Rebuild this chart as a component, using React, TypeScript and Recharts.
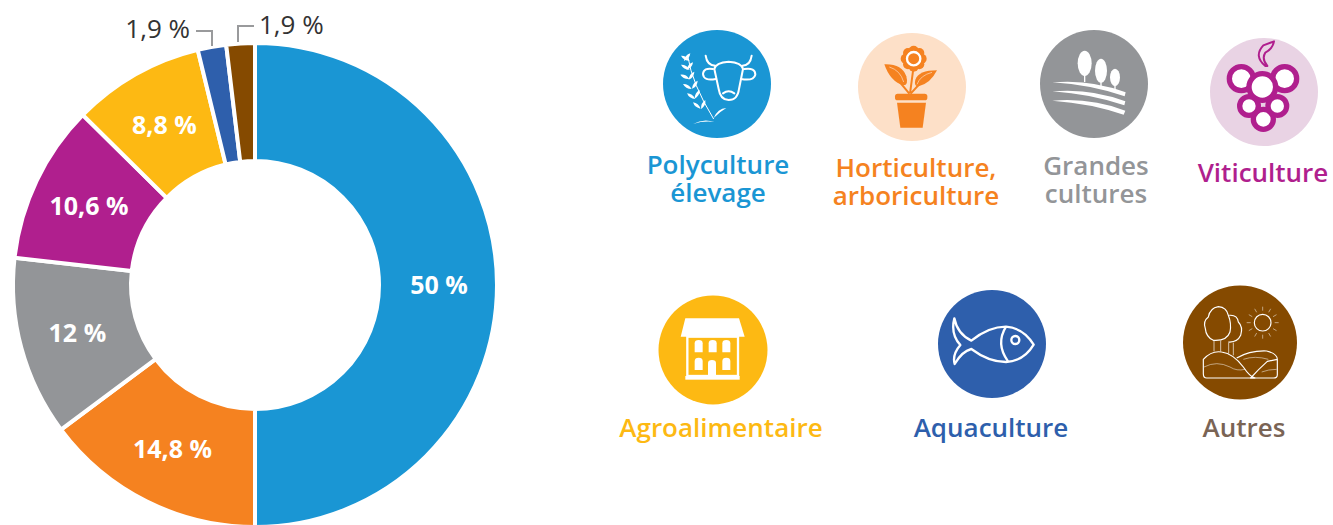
import { PieChart, Pie, Cell } from 'recharts';

const FONT = '"Open Sans", sans-serif';

const categories = ['Polyculture élevage', 'Horticulture, arboriculture', 'Grandes cultures', 'Viticulture', 'Agroalimentaire', 'Aquaculture', 'Autres'];
const shares = [50, 14.8, 12, 10.6, 8.8, 1.9, 1.9];
const sliceColors = ['#1a96d4', '#f58220', '#939598', '#b01f8e', '#fdb913', '#2e5fac', '#854a00'];

const pieData = categories.map((name, i) => ({ name, value: shares[i] }));

// small slices get their label outside, with a bent leader line
const outsideLabels: Record<number, { x: number; y: number; anchor: 'start' | 'end'; line: string }> = {
  5: { x: 190, y: 38, anchor: 'end', line: 'M196 31 H212 V46' },
  6: { x: 259, y: 34, anchor: 'start', line: 'M238 42 V26 H254' },
};

const fmt = (v: number) => `${String(v).replace('.', ',')} %`;

function SliceLabel(props: any) {
  const { cx, cy, midAngle, innerRadius, outerRadius, value, index } = props;
  const out = outsideLabels[index];
  if (out) {
    return (
      <g>
        <path d={out.line} fill="none" stroke="#999a9c" strokeWidth={2} />
        <text x={out.x} y={out.y} textAnchor={out.anchor} fontFamily={FONT} fontSize={26} fill="#333333">
          {fmt(value)}
        </text>
      </g>
    );
  }
  const r = (innerRadius + outerRadius) / 2 + 1;
  const a = (-midAngle * Math.PI) / 180;
  return (
    <text
      x={cx + r * Math.cos(a)}
      y={cy + r * Math.sin(a) + 9}
      textAnchor="middle"
      fontFamily={FONT}
      fontWeight={700}
      fontSize={25}
      fill="#ffffff"
    >
      {fmt(value)}
    </text>
  );
}

// icons are drawn in a 360 unit box (3 units = 1px)
const W = '#ffffff';

function CowWheat() {
  const leaves = [
    [72, 95, 30], [100, 88, 130], [72, 122, 30], [108, 115, 130], [70, 152, 25], [112, 143, 125],
    [78, 180, 30], [122, 170, 125], [90, 208, 35], [128, 198, 120], [108, 235, 40], [145, 228, 115],
  ];
  return (
    <g>
      <path d="M92 95 Q105 180 170 285" fill="none" stroke={W} strokeWidth={3} />
      {leaves.map(([x, y, r], i) => (
        <path key={i} d="M0 0 Q14 -9 30 0 Q14 9 0 0Z" fill={W} transform={`translate(${x} ${y}) rotate(${r})`} />
      ))}
      <path d="M108 300 Q140 282 172 294 Q140 290 108 300Z" fill={W} />
      <path d="M170 282 Q182 254 208 252 Q190 262 170 282Z" fill={W} />
      <g fill="none" stroke={W} strokeWidth={6} strokeLinecap="round" strokeLinejoin="round">
        <path d="M172 135 Q176 115 215 113 Q254 115 258 135 L246 195 Q242 228 215 228 Q190 228 185 195 Z" />
        <path d="M146 95 Q150 125 175 125" />
        <path d="M284 95 Q280 125 256 125" />
        <path d="M168 135 Q140 130 138 150 Q140 172 176 165" />
        <path d="M262 135 Q295 130 295 152 Q290 172 252 165" />
        <path d="M198 208 Q215 195 232 208" />
      </g>
    </g>
  );
}

function Flower() {
  const C = '#f58220';
  const petals = [0, 45, 90, 135, 180, 225, 270, 315];
  return (
    <g>
      {petals.map((d) => (
        <circle key={d} cx={185 + 24 * Math.cos((d * Math.PI) / 180)} cy={95 + 24 * Math.sin((d * Math.PI) / 180)} r={15} fill={C} />
      ))}
      <circle cx={185} cy={95} r={26} fill={C} />
      <circle cx={185} cy={95} r={20} fill={C} stroke={W} strokeWidth={7} />
      <path d="M184 125 L174 200 M122 140 L172 200 M222 150 L176 200" stroke={C} strokeWidth={6} fill="none" />
      <path d="M97 112 Q150 110 163 148 Q170 175 155 175 Q115 165 97 112Z" fill={C} />
      <path d="M255 130 Q200 130 190 158 Q185 178 200 178 Q235 170 255 130Z" fill={C} />
      <path d="M112 120 Q145 130 155 165" stroke="#fde0c8" strokeWidth={2} fill="none" />
      <path d="M240 136 Q205 145 195 172" stroke="#fde0c8" strokeWidth={2} fill="none" />
      <rect x={129} y={200} width={97} height={20} rx={8} fill={C} />
      <path d="M135 227 H222 L212 302 H145 Z" fill={C} />
    </g>
  );
}

function Fields() {
  return (
    <g fill={W}>
      <ellipse cx={152} cy={118} rx={21} ry={38} />
      <rect x={150} y={150} width={4} height={24} />
      <ellipse cx={201} cy={140} rx={18} ry={36} />
      <rect x={199} y={170} width={4} height={18} />
      <ellipse cx={243} cy={160} rx={15} ry={26} />
      <rect x={241} y={182} width={4} height={14} />
      <path d="M55 175 Q170 165 275 205 L272 217 Q170 182 55 175Z" />
      <path d="M55 202 Q170 192 274 232 L271 244 Q170 210 55 202Z" />
      <path d="M55 230 Q170 220 274 260 L269 272 Q170 238 55 230Z" />
    </g>
  );
}

function Grapes() {
  const C = '#b01f8e';
  const berries = [
    [178, 262, 30], [135, 222, 28], [220, 222, 28], [112, 140, 36], [242, 140, 36], [175, 165, 40],
  ];
  return (
    <g>
      <path d="M184 102 Q148 72 178 40 L210 28 Q206 50 184 62 Q172 80 190 102Z" fill="#e9d3e4" stroke={C} strokeWidth={6} strokeLinejoin="round" />
      {berries.map(([x, y, r], i) => (
        <circle key={i} cx={x} cy={y} r={r} fill={W} stroke={C} strokeWidth={16} />
      ))}
    </g>
  );
}

function House() {
  const C = '#fdb913';
  const win = (x: number, y: number, h: number) => `M${x} ${y + h} V${y + 10} Q${x} ${y} ${x + 12} ${y} Q${x + 24} ${y} ${x + 24} ${y + 10} V${y + h} Z`;
  return (
    <g fill={W}>
      <path d="M97 85 H258 L275 140 H83 Z" />
      <rect x={103} y={140} width={152} height={118} fill={C} stroke={W} strokeWidth={7} />
      <rect x={97} y={258} width={163} height={11} />
      {[125, 167, 208].map((x) => <path key={x} d={win(x, 150, 37)} />)}
      {[125, 208].map((x) => <path key={x} d={win(x, 203, 37)} />)}
      <path d={win(165, 210, 50)} />
    </g>
  );
}

function Fish() {
  return (
    <g fill="none" stroke={W} strokeWidth={7} strokeLinejoin="round">
      <path d="M67 103 Q76 150 118 170 Q170 128 222 128 Q275 132 305 182 Q275 232 222 234 Q170 234 118 195 Q90 202 68 240 Q60 212 85 183 Q55 150 67 103 Z" />
      <path d="M222 128 Q190 180 228 232" />
      <circle cx={250} cy={168} r={12} />
    </g>
  );
}

function Landscape() {
  const rays = [0, 30, 60, 90, 120, 150, 180, 210, 240, 270, 300, 330];
  return (
    <g fill="none" stroke={W} strokeLinejoin="round">
      <g strokeWidth={3.5}>
        <circle cx={248} cy={122} r={25} />
        <path d="M100 175 Q78 165 76 140 Q68 118 85 105 Q90 78 115 74 Q140 76 145 100 Q155 125 150 150 Q140 178 100 175Z" />
        <path d="M148 100 Q172 98 175 120 Q190 135 182 160 Q172 182 145 180" />
        <path d="M102 176 V208 M122 176 V208 M146 182 V215 M160 182 V220" strokeWidth={2} />
        <path d="M70 232 Q95 205 125 210 Q160 215 190 255 Q210 285 225 288 H80 Q70 288 70 275 Z" />
        <path d="M170 228 Q210 205 260 207 Q292 215 292 232 V278 Q292 288 280 288 H212 Q235 262 262 238 L292 232" />
      </g>
      <g strokeWidth={1.5}>
        <path d="M72 255 Q110 235 150 255 Q170 268 195 262" />
        <path d="M190 232 Q225 220 265 232" />
        <path d="M245 270 Q265 262 290 262" />
        {rays.map((d) => {
          const a = (d * Math.PI) / 180;
          return (
            <line key={d} x1={248 + 36 * Math.cos(a)} y1={122 + 36 * Math.sin(a)} x2={248 + 48 * Math.cos(a)} y2={122 + 48 * Math.sin(a)} />
          );
        })}
      </g>
    </g>
  );
}

const legendIcons = [
  { box: [657, 24], cx: 717, cy: 84, r: 54, fill: '#1a96d4', Icon: CowWheat, lines: ['Polyculture', 'élevage'], tx: 718, ty: 174, color: '#1a96d4' },
  { box: [852, 27], cx: 912, cy: 87, r: 54, fill: '#fde0c8', Icon: Flower, lines: ['Horticulture,', 'arboriculture'], tx: 916, ty: 177, color: '#f58220' },
  { box: [1034, 24], cx: 1094, cy: 84, r: 54, fill: '#939598', Icon: Fields, lines: ['Grandes', 'cultures'], tx: 1096, ty: 175, color: '#939598' },
  { box: [1204, 32], cx: 1264, cy: 92, r: 54, fill: '#e9d3e4', Icon: Grapes, lines: ['Viticulture'], tx: 1263, ty: 182, color: '#b01f8e' },
  { box: [653, 290], cx: 713, cy: 350, r: 54.5, fill: '#fdb913', Icon: House, lines: ['Agroalimentaire'], tx: 721, ty: 437, color: '#fdb913' },
  { box: [932, 284], cx: 992, cy: 344, r: 54, fill: '#2e5fac', Icon: Fish, lines: ['Aquaculture'], tx: 991, ty: 437, color: '#2e5fac' },
  { box: [1180, 282], cx: 1240, cy: 342.5, r: 57, fill: '#854a00', Icon: Landscape, lines: ['Autres'], tx: 1244, ty: 437, color: '#7a6455' },
];

function LegendOverlay() {
  return (
    <svg width={1333} height={525} style={{ position: 'absolute', left: 0, top: 0 }}>
      {legendIcons.map(({ box, cx, cy, r, fill, Icon, lines, tx, ty, color }) => (
        <g key={lines[0]}>
          <circle cx={cx} cy={cy} r={r} fill={fill} />
          <g transform={`translate(${box[0]} ${box[1]}) scale(${1 / 3})`}>
            <Icon />
          </g>
          {lines.map((l, i) => (
            <text key={l} x={tx} y={ty + i * 28} textAnchor="middle" fontFamily={FONT} fontWeight={600} fontSize={26} fill={color}>
              {l}
            </text>
          ))}
        </g>
      ))}
    </svg>
  );
}

export default function App() {
  return (
    <div style={{ position: 'absolute', left: 0, top: 0, width: 1333, height: 525, overflow: 'hidden', background: '#fff' }}>
      <PieChart width={1333} height={525} margin={{ top: 0, right: 0, bottom: 0, left: 0 }}>
        <Pie
          data={pieData}
          dataKey="value"
          nameKey="name"
          cx={255}
          cy={285}
          outerRadius={242}
          innerRadius={124}
          startAngle={90}
          endAngle={-270}
          stroke="#ffffff"
          strokeWidth={4}
          label={SliceLabel}
          labelLine={false}
          isAnimationActive={false}
        >
          {pieData.map((d, i) => (
            <Cell key={d.name} fill={sliceColors[i]} />
          ))}
        </Pie>
      </PieChart>
      <LegendOverlay />
    </div>
  );
}
